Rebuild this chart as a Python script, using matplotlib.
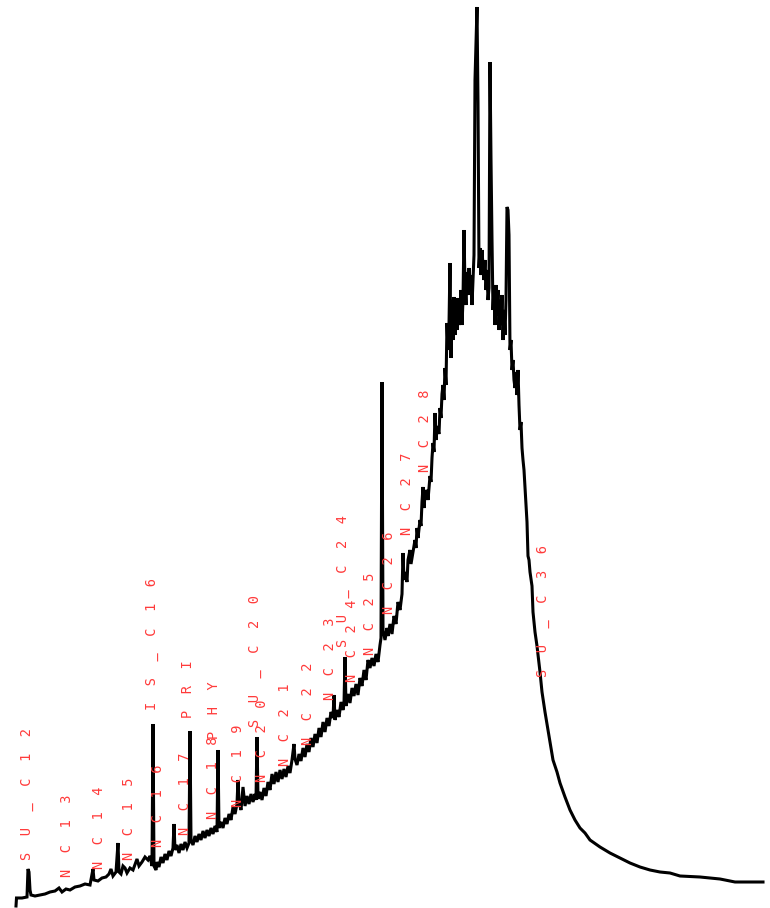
import numpy as np
import matplotlib
matplotlib.use("Agg")
import matplotlib.pyplot as plt

# Chromatogram trace: scan number vs detector response
scan = [0, 0.5, 6, 11, 12, 13, 14, 15, 19, 24, 29, 34, 39, 43, 46, 50, 54, 59, 64, 69,
        74, 77, 78, 82, 86, 90, 93, 95, 97, 100, 102, 103, 105, 107, 109, 111, 114, 117, 121, 123,
        126, 129, 132, 134, 136, 137, 138,
        140, 141, 143, 145, 147, 149, 151, 153, 155, 157, 158, 159, 161, 163, 165, 167, 169, 171, 173, 174,
        175, 177, 179, 181, 183, 185, 187, 189, 191, 193, 195, 197, 199, 201, 202, 203, 205, 207, 209, 211,
        213, 215, 217, 219, 221, 222, 223, 225, 227, 229, 231, 233, 235, 237, 239, 240, 241, 242, 244, 246,
        248, 250, 252, 254, 256, 258, 260, 262, 264, 266, 268, 270, 272, 274, 276, 278, 279, 281, 283, 285,
        287, 289, 291, 293, 295, 297, 299, 301, 303, 305, 307, 309, 311, 313, 315, 317, 318, 319, 321, 323,
        325, 327, 328, 329, 330, 332, 334, 336, 338, 340, 342, 344, 346, 348, 350, 352, 354, 356, 358, 360,
        362, 364, 365, 366, 367, 369, 371, 372, 374, 376, 378, 380, 382, 384, 386, 387, 388, 389, 391, 392,
        394, 395, 397, 399, 400, 401, 402, 404, 405, 406, 407, 408, 409, 411, 412, 414, 415, 416, 417, 418,
        419, 420, 421, 423, 424, 425, 426, 427, 428, 429, 430, 431, 432, 433, 434, 435, 436, 437, 438, 439,
        440, 441, 442, 443, 444, 445, 446, 447, 448, 449, 450, 451, 452, 453, 454, 455, 456, 457, 458, 459,
        461, 462, 463, 464, 465, 466, 467, 468, 469, 470, 471, 472, 473, 474, 475, 476, 477, 478, 479, 480,
        481, 482, 483, 484, 485, 486, 487, 488, 489, 490, 491, 492, 493, 494, 495, 496, 497, 498, 499, 500,
        501, 502, 503, 504, 505, 506, 507, 508, 509, 510, 511, 512, 513, 514, 516, 517, 519, 521, 524, 526,
        529, 532, 534, 537, 541, 544, 549, 554, 559, 564, 569, 574, 584, 594, 604, 614, 624, 634, 644, 654,
        664, 684, 704, 719, 747]
response = [-6, 2, 2, 3, 31, 28, 10, 5, 4, 5, 6, 8, 9, 12, 8, 11, 10, 13, 14, 16,
            15, 31, 20, 19, 22, 23, 26, 31, 24, 28, 57, 28, 26, 34, 32, 27, 32, 30, 41, 34,
            38, 43, 40, 44, 34, 176, 34,
            30, 38, 33, 43, 37, 46, 40, 49, 44, 52, 76, 50, 55, 47, 56, 50, 58, 52, 57, 169,
            60, 55, 64, 58, 66, 60, 69, 62, 70, 64, 72, 66, 74, 68, 150, 72, 78, 72, 82, 76,
            86, 80, 93, 86, 96, 120, 98, 90, 113, 94, 104, 96, 106, 98, 106, 100, 163, 101, 108, 100,
            112, 104, 118, 110, 126, 116, 128, 118, 130, 121, 131, 123, 134, 127, 140, 156, 141, 135, 146, 139,
            152, 143, 156, 148, 162, 153, 166, 157, 172, 163, 178, 168, 182, 174, 188, 182, 205, 180, 190, 183,
            198, 190, 196, 243, 194, 206, 197, 212, 204, 216, 205, 222, 214, 230, 220, 240, 232, 242, 234, 246,
            238, 255, 262, 518, 270, 260, 272, 264, 276, 266, 284, 276, 298, 290, 306, 347, 320, 328, 318, 340,
            350, 336, 348, 360, 352, 372, 362, 380, 374, 398, 413, 392, 405, 410, 400, 424, 418, 442, 457, 448,
            487, 460, 474, 466, 492, 482, 506, 515, 500, 532, 515, 577, 550, 575, 637, 542, 600, 560, 603, 565,
            600, 570, 602, 575, 582, 610, 575, 600, 670, 613, 595, 628, 605, 632, 610, 625, 595, 620, 645, 820,
            893, 797, 632, 652, 625, 650, 634, 620, 640, 610, 630, 600, 612, 838, 740, 660, 590, 613, 575, 615,
            585, 610, 570, 600, 575, 605, 560, 590, 565, 600, 693, 690, 665, 550, 560, 530, 540, 520, 512, 528,
            505, 530, 495, 470, 478, 452, 440, 430, 412, 395, 378, 344, 340, 328, 314, 288, 268, 254, 228, 208,
            188, 170, 158, 140, 128, 117, 103, 90, 80, 72, 67, 60, 53, 47, 42, 37, 33, 30, 28, 27,
            24, 23, 21, 18, 18]

# Peak annotations: name, scan, response at the middle of the label
peak_names = ["SU_C12", "NC13", "NC14", "NC15", "IS_C16", "NC16", "PRI", "NC17", "PHY", "NC18",
              "NC19", "SU_C20", "NC20", "NC21", "NC22", "NC23", "SU_C24", "NC24", "NC25", "NC26",
              "NC27", "NC28", "SU_C36"]
peak_scan = [11, 51, 83, 113, 136, 142, 172, 169, 198, 197,
             222, 239, 246, 269, 292, 314, 327, 336, 354, 373,
             391, 409, 527]
label_mid = [106, 64, 72, 81, 256, 94, 211, 106, 190, 122,
             134, 239, 159, 175, 196, 241, 319, 259, 286, 327,
             406, 469, 289]

fig = plt.figure(figsize=(7.7, 9.08), dpi=100)
ax = fig.add_axes([0, 0, 1, 1])
ax.plot(scan, response, color="black", lw=2.2, solid_joinstyle="miter")

for name, x, y in zip(peak_names, peak_scan, label_mid):
    ax.text(x, y, "  ".join(name), rotation=90, ha="center", va="center",
            fontsize=9.8, family="DejaVu Sans Mono", color="#ff3a3a")

ax.set_xlim(-16, 754)
ax.set_ylim(-8, 900)
ax.axis("off")

fig.savefig("out.png", dpi=100, facecolor="white")
